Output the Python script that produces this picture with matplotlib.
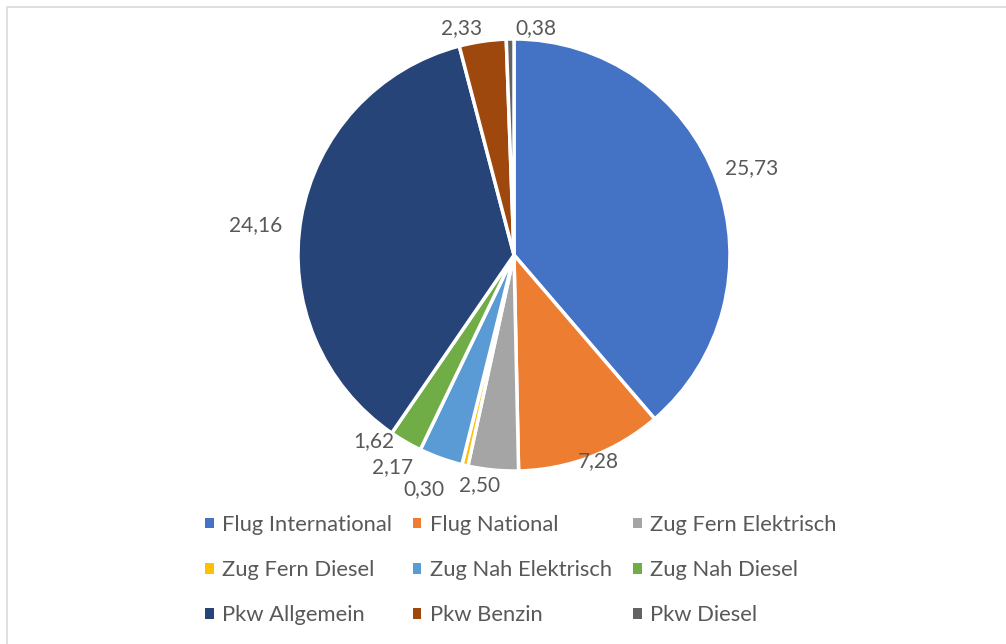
import numpy as np
import matplotlib
matplotlib.use("Agg")
import matplotlib.pyplot as plt
from matplotlib.patches import Rectangle

categories = ["Flug International", "Flug National", "Zug Fern Elektrisch",
              "Zug Fern Diesel", "Zug Nah Elektrisch", "Zug Nah Diesel",
              "Pkw Allgemein", "Pkw Benzin", "Pkw Diesel"]
values = [25.73, 7.28, 2.50, 0.30, 2.17, 1.62, 24.16, 2.33, 0.38]
colors = ["#4472C4", "#ED7D31", "#A5A5A5", "#FFC000", "#5B9BD5",
          "#70AD47", "#264478", "#9E480E", "#636363"]

# label placement layout (distance in radius units, angle nudge in degrees)
lab_dist = [1.171, 1.032, 1.079, 1.162, 1.134, 1.079, 1.204, 1.079, 1.056]
lab_nudge = [-0.2, 1.2, -2.9, -7.9, -10.0, -6.9, 3.3, 4.6, -6.5]

plt.rcParams['font.family'] = ['Lato', 'DejaVu Sans']
W, H = 1006, 644
fig = plt.figure(figsize=(W / 100, H / 100), dpi=100)
ax = fig.add_axes([0, 0, 1, 1])
ax.set_xlim(0, W)
ax.set_ylim(0, H)
ax.set_aspect('equal')
ax.axis('off')

cx, cy, R = 514, H - 255, 216
wedges, _ = ax.pie(values, colors=colors, startangle=90, counterclock=False,
                   center=(cx, cy), radius=R, frame=True,
                   wedgeprops=dict(edgecolor='white', linewidth=2.5))
ax.set_xlim(0, W)
ax.set_ylim(0, H)
ax.axis('off')

for w, v, d, n in zip(wedges, values, lab_dist, lab_nudge):
    mid = np.deg2rad((w.theta1 + w.theta2) / 2 + n)
    x = cx + d * R * np.cos(mid)
    y = cy + d * R * np.sin(mid)
    ax.text(x, y, f"{v:.2f}".replace('.', ','), ha='center', va='center',
            fontsize=15, color='#595959')

# border
ax.add_patch(Rectangle((7, -20), W + 20, H - 7 + 20, fill=False,
                       edgecolor='#D9D9D9', linewidth=1.2))

order = [0, 3, 6, 1, 4, 7, 2, 5, 8]
leg = ax.legend([wedges[i] for i in order], [categories[i] for i in order],
                ncol=3, loc='center', bbox_to_anchor=(521 / W, 1 - 570 / H),
                frameon=False, fontsize=15.8, labelcolor='#595959',
                handlelength=0.38, handleheight=0.38, handletextpad=0.4,
                columnspacing=0.95, labelspacing=1.15, borderpad=0)
for h in leg.legend_handles:
    h.set_linewidth(0)

fig.savefig("out.png", dpi=100)
